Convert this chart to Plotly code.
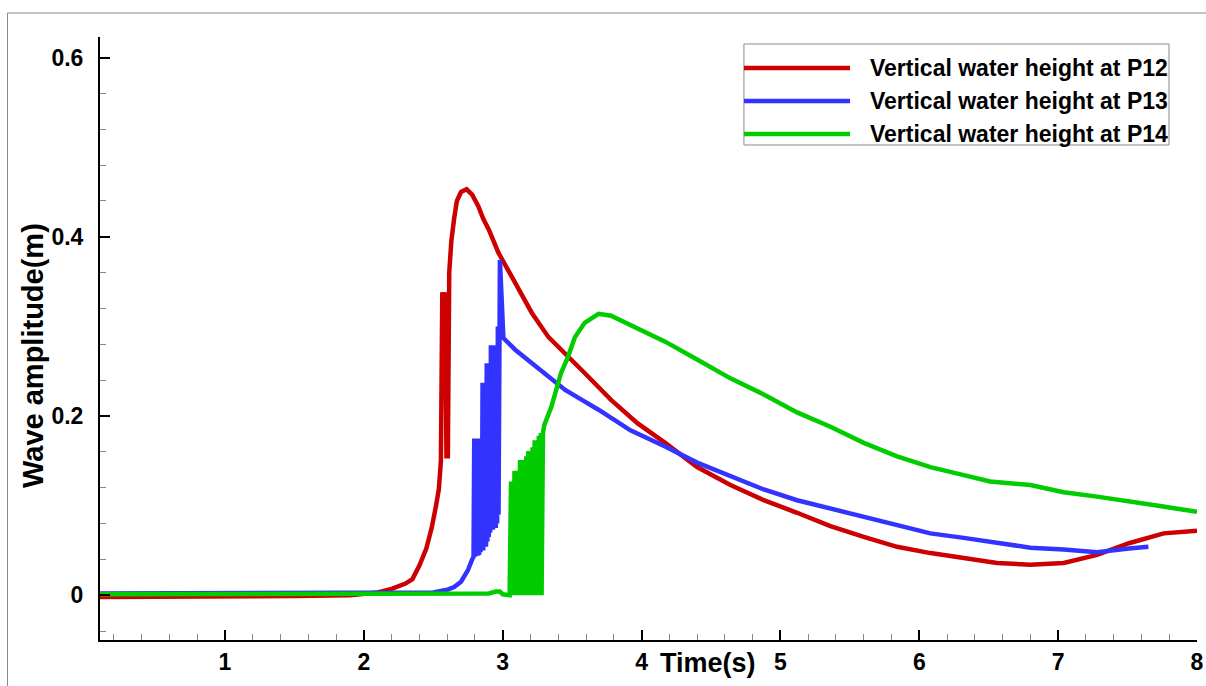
import plotly.graph_objects as go

# ---------------- data ----------------
series_names = ["Vertical water height at P12",
                "Vertical water height at P13",
                "Vertical water height at P14"]
series_colors = ["#CC0000", "#3333FF", "#00CC00"]

t_p12 = [0.1, 0.5, 1.0, 1.5, 1.9, 2.0, 2.1, 2.2, 2.25, 2.3, 2.35, 2.4, 2.45, 2.49, 2.52,
         2.54, 2.555, 2.565, 2.575, 2.585, 2.595, 2.605, 2.615, 2.63, 2.65, 2.67, 2.70,
         2.74, 2.78, 2.825, 2.86, 2.90, 2.97, 3.04, 3.135, 3.21, 3.33, 3.45, 3.59, 3.78,
         3.97, 4.17, 4.40, 4.64, 4.88, 5.12, 5.36, 5.60, 5.84, 6.08, 6.32, 6.56, 6.80,
         7.04, 7.28, 7.51, 7.76, 8.0]
h_p12 = [-0.002, -0.002, -0.001, -0.001, 0.0, 0.001, 0.003, 0.007, 0.010, 0.013, 0.018,
         0.033, 0.052, 0.076, 0.100, 0.118, 0.150, 0.338, 0.325, 0.338, 0.155, 0.155,
         0.360, 0.395, 0.420, 0.440, 0.450, 0.453, 0.447, 0.434, 0.420, 0.408, 0.382,
         0.363, 0.337, 0.315, 0.288, 0.270, 0.248, 0.218, 0.192, 0.170, 0.143, 0.123,
         0.106, 0.092, 0.077, 0.065, 0.054, 0.047, 0.042, 0.036, 0.034, 0.036, 0.045,
         0.058, 0.069, 0.072]

t_p13 = [0.1, 1.0, 2.0, 2.5, 2.6, 2.65, 2.70, 2.75, 2.78,
         2.790, 2.795, 2.800, 2.805, 2.810, 2.815, 2.820, 2.825, 2.830, 2.835, 2.840,
         2.845, 2.850, 2.855, 2.860, 2.865, 2.870, 2.875, 2.880, 2.885, 2.890, 2.895,
         2.900, 2.905, 2.910, 2.915, 2.920, 2.925, 2.930, 2.935, 2.940, 2.945, 2.950,
         2.955, 2.960, 2.965, 2.970, 2.980, 3.000, 3.005,
         3.09, 3.21, 3.33, 3.45, 3.57, 3.69, 3.92, 4.17, 4.40, 4.64, 4.88, 5.12, 5.36,
         5.60, 5.84, 6.08, 6.32, 6.56, 6.80, 7.04, 7.28, 7.51, 7.65]
h_p13 = [0.002, 0.002, 0.002, 0.003, 0.006, 0.009, 0.015, 0.028, 0.040,
         0.043, 0.175, 0.043, 0.175, 0.045, 0.175, 0.044, 0.172, 0.045, 0.175, 0.048,
         0.175, 0.050, 0.237, 0.050, 0.237, 0.054, 0.237, 0.054, 0.259, 0.060, 0.259,
         0.065, 0.259, 0.070, 0.279, 0.073, 0.279, 0.073, 0.279, 0.075, 0.279, 0.075,
         0.279, 0.080, 0.300, 0.090, 0.374, 0.300, 0.287,
         0.274, 0.259, 0.244, 0.229, 0.218, 0.207, 0.184, 0.166, 0.148, 0.133, 0.118,
         0.106, 0.097, 0.088, 0.078, 0.069, 0.064, 0.058, 0.053, 0.051, 0.048, 0.052,
         0.054]

t_p14 = [0.1, 1.0, 2.0, 2.9, 2.95, 2.98, 3.0, 3.05,
         3.060, 3.065, 3.070, 3.075, 3.085, 3.090, 3.095, 3.100, 3.110, 3.120, 3.125,
         3.130, 3.140, 3.145, 3.155, 3.160, 3.170, 3.175, 3.185, 3.190, 3.200, 3.205,
         3.215, 3.220, 3.230, 3.235, 3.245, 3.250, 3.260, 3.265, 3.275, 3.280, 3.290,
         3.30, 3.35, 3.42, 3.47, 3.52, 3.59, 3.69, 3.78, 3.92, 4.17, 4.40, 4.64, 4.88,
         5.12, 5.36, 5.60, 5.84, 6.08, 6.32, 6.51, 6.80, 7.04, 7.28, 7.51, 7.71, 8.0]
h_p14 = [0.001, 0.001, 0.001, 0.002, 0.004, 0.004, 0.001, 0.0,
         0.127, 0.0, 0.127, 0.0, 0.139, 0.0, 0.139, 0.0, 0.100, 0.0, 0.151,
         0.0, 0.151, 0.0, 0.151, 0.0, 0.155, 0.0, 0.161, 0.0, 0.161, 0.0,
         0.165, 0.0, 0.173, 0.0, 0.173, 0.0, 0.178, 0.0, 0.181, 0.0, 0.181,
         0.190, 0.210, 0.248, 0.266, 0.288, 0.304, 0.314, 0.312, 0.302, 0.283, 0.263,
         0.242, 0.224, 0.204, 0.188, 0.170, 0.155, 0.143, 0.134, 0.127, 0.123, 0.115,
         0.110, 0.104, 0.100, 0.093]

x_ticks = [1, 2, 3, 4, 5, 6, 7, 8]
y_ticks = [0, 0.2, 0.4, 0.6]
y_tick_labels = ["0", "0.2", "0.4", "0.6"]
x_title = "Time(s)"
y_title = "Wave amplitude(m)"

# ---------------- figure ----------------
FONT = "Liberation Sans, Arial, sans-serif"
fig = go.Figure()
for t, h, name, col in zip([t_p12, t_p13, t_p14], [h_p12, h_p13, h_p14],
                           series_names, series_colors):
    fig.add_trace(go.Scatter(x=t, y=h, mode="lines", name=name,
                             line=dict(color=col, width=4.5), showlegend=False))

# custom legend (long line samples like the reference)
leg_x0, leg_x1, txt_x = 0.587, 0.6837, 0.700
leg_ys = [0.9486, 0.8939, 0.8391]
fig.add_shape(type="rect", xref="paper", yref="paper", x0=0.587, x1=0.9745,
              y0=0.8209, y1=0.9884, line=dict(color="#8a8a8a", width=1),
              fillcolor="white", layer="below")
for name, col, ly in zip(series_names, series_colors, leg_ys):
    fig.add_shape(type="line", xref="paper", yref="paper", x0=leg_x0, x1=leg_x1,
                  y0=ly, y1=ly, line=dict(color=col, width=4.5))
    fig.add_annotation(xref="paper", yref="paper", x=txt_x, y=ly, text=name,
                       showarrow=False, xanchor="left", yanchor="middle",
                       font=dict(family=FONT, size=23, color="black", weight="bold"))

# outer frame (left/top edges of the picture border)
fig.add_shape(type="rect", xref="paper", yref="paper", x0=-0.0843, x1=1.02,
              y0=-0.1, y1=1.0398, line=dict(color="#8a8a8a", width=1))

# axis titles as annotations (placed like the reference)
fig.add_annotation(xref="paper", yref="paper", x=0.554, y=-0.038, text=x_title,
                   showarrow=False, xanchor="center", yanchor="middle",
                   font=dict(family=FONT, size=27, color="black", weight="bold"))
fig.add_annotation(xref="paper", yref="paper", x=-0.0611, y=0.4726, text=y_title,
                   textangle=-90, showarrow=False, xanchor="center", yanchor="middle",
                   font=dict(family=FONT, size=29, color="black", weight="bold"))

axis_common = dict(showgrid=False, zeroline=False, showline=True, linecolor="black",
                   linewidth=2, ticks="inside", ticklen=10, tickwidth=2,
                   tickcolor="black", mirror=False,
                   tickfont=dict(family=FONT, size=23, color="black", weight="bold"))

fig.update_xaxes(range=[0.1, 8], tickvals=x_ticks, ticktext=[str(v) for v in x_ticks],
                 minor=dict(ticks="inside", dtick=0.2, tick0=0, ticklen=6, tickwidth=1,
                            tickcolor="#888888", showgrid=False),
                 ticklabelstandoff=0, ticklabeloverflow="allow", **axis_common)
fig.update_yaxes(range=[-0.05, 0.623], tickvals=y_ticks, ticktext=y_tick_labels,
                 minor=dict(ticks="inside", dtick=0.04, tick0=0, ticklen=6, tickwidth=1,
                            tickcolor="#888888", showgrid=False),
                 ticklabelstandoff=10, **axis_common)

fig.update_layout(width=1206, height=686, plot_bgcolor="white", paper_bgcolor="white",
                  margin=dict(l=100, r=9, t=37, b=46, autoexpand=False),
                  showlegend=False)

# remove the default 8px page margin so the figure fills the window exactly
fig.write_html("out.html",
               config={"displayModeBar": False},
               post_script="document.body.style.margin='0';"
                           "document.body.style.overflow='hidden';"
                           "document.documentElement.style.overflow='hidden';")
